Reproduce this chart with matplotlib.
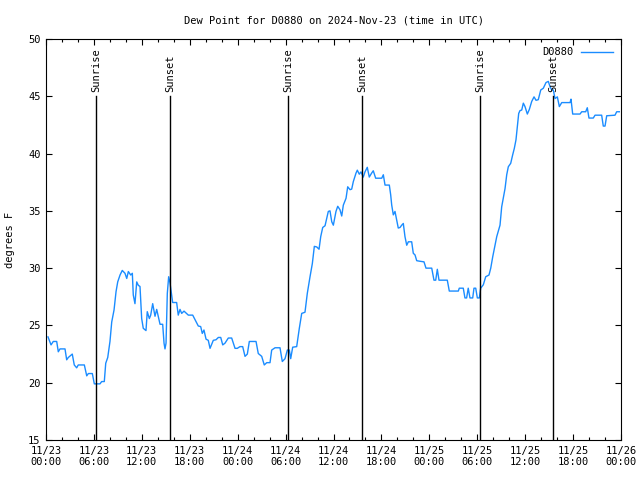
import matplotlib
matplotlib.use("Agg")
import matplotlib.pyplot as plt
from matplotlib.ticker import MultipleLocator

# hours since 11/23 00:00 UTC and dew point (F)
hours = [
    0.25, 0.63, 0.91, 1.34, 1.54, 1.75, 2.38, 2.59, 2.79, 3.29, 3.54, 3.84, 4.04, 4.80,
    5.10, 5.30, 5.80, 6.05, 6.76, 6.97, 7.30, 7.48, 7.73, 8.01, 8.23, 8.52, 8.77, 8.98,
    9.27, 9.55, 9.89, 10.11, 10.31, 10.61, 10.81, 10.93, 11.14, 11.36, 11.56, 11.77,
    11.98, 12.18, 12.52, 12.68, 12.94, 13.11, 13.36, 13.65, 13.86, 14.06, 14.28, 14.61,
    14.78, 14.90, 15.03, 15.19, 15.36, 15.53, 15.70, 15.86, 16.36, 16.56, 16.78, 16.99,
    17.28, 17.82, 18.37, 18.66, 19.07, 19.37, 19.57, 19.78, 20.04, 20.32, 20.54, 20.95,
    21.29, 21.58, 21.88, 22.13, 22.41, 22.83, 23.25, 23.67, 23.95, 24.29, 24.63, 24.92,
    25.21, 25.46, 26.30, 26.58, 27.01, 27.33, 27.64, 28.05, 28.26, 28.68, 29.30, 29.59,
    29.93, 30.22, 30.47, 30.64, 30.89, 31.39, 31.72, 32.02, 32.43, 32.72, 33.06, 33.35,
    33.60, 33.90, 34.19, 34.40, 34.65, 34.94, 35.35, 35.56, 35.78, 35.98, 36.31, 36.53,
    36.81, 37.03, 37.23, 37.57, 37.78, 38.07, 38.28, 38.48, 38.82, 38.98, 39.23, 39.44,
    39.73, 39.94, 40.23, 40.48, 40.78, 40.98, 41.28, 42.04, 42.24, 42.45, 42.99, 43.16,
    43.29, 43.49, 43.70, 43.91, 44.11, 44.33, 44.54, 44.74, 44.95, 45.17, 45.37, 45.79,
    45.99, 46.21, 46.42, 46.83, 47.33, 47.58, 48.30, 48.58, 48.80, 49.00, 49.21, 50.25,
    50.50, 51.63, 51.75, 52.25, 52.46, 52.67, 52.87, 53.09, 53.43, 53.59, 53.81, 54.01,
    54.26, 54.43, 54.76, 55.06, 55.47, 55.69, 55.94, 56.22, 56.44, 56.64, 56.85, 57.06,
    57.26, 57.48, 57.69, 57.89, 58.19, 58.44, 58.64, 58.85, 59.02, 59.19, 59.35, 59.57,
    59.77, 59.98, 60.27, 60.52, 60.82, 61.11, 61.36, 61.64, 61.95, 62.27, 62.61, 62.90,
    63.11, 63.32, 63.52, 63.74, 64.03, 64.28, 64.58, 65.62, 65.74, 65.95, 66.87, 67.08,
    67.58, 67.78, 67.99, 68.53, 68.75, 69.58, 69.78, 70.00, 70.21, 71.25, 71.46, 71.79,
]
dewpoint = [
    24.0, 23.3, 23.6, 23.6, 22.7, 22.95, 22.95, 22.0, 22.2, 22.5, 21.55, 21.3, 21.55, 21.55,
    20.6, 20.8, 20.8, 19.9, 19.9, 20.1, 20.1, 21.7, 22.2, 23.6, 25.3, 26.35, 27.95, 28.8,
    29.4, 29.8, 29.55, 29.1, 29.7, 29.4, 29.55, 27.65, 26.9, 28.8, 28.5, 28.4,
    25.6, 24.75, 24.55, 26.2, 25.6, 25.9, 26.9, 25.8, 26.4, 25.8, 25.1, 25.1,
    23.45, 22.95, 23.45, 27.8, 29.25, 28.7, 27.8, 27.0, 27.0, 25.9, 26.4, 26.05,
    26.25, 25.9, 25.9, 25.5, 24.95, 24.9, 24.3, 24.6, 23.8, 23.7, 23.0, 23.7,
    23.75, 23.95, 23.95, 23.3, 23.45, 23.9, 23.9, 23.0, 23.0, 23.15, 23.15, 22.3,
    22.5, 23.6, 23.6, 22.55, 22.3, 21.55, 21.75, 21.75, 22.85, 23.05, 23.05, 21.85,
    22.1, 22.85, 22.85, 22.1, 23.1, 23.15, 24.75, 26.05, 26.15, 27.8, 29.25, 30.4,
    31.9, 31.85, 31.65, 32.75, 33.55, 33.7, 34.95, 35.0, 34.05, 33.75, 34.95, 35.4,
    35.1, 34.55, 35.5, 36.1, 37.1, 36.85, 36.9, 37.55, 38.3, 38.55, 38.2, 38.4,
    37.95, 38.4, 38.8, 37.95, 38.3, 38.5, 37.85, 37.85, 38.15, 37.25, 37.25, 36.4,
    35.5, 34.65, 34.95, 34.2, 33.5, 33.55, 33.75, 33.9, 32.75, 32.0, 32.3, 32.3,
    31.3, 31.15, 30.65, 30.6, 30.55, 30.0, 30.0, 28.95, 28.95, 29.9, 28.95, 28.95,
    28.0, 28.0, 28.25, 28.25, 27.4, 27.4, 28.25, 27.4, 27.4, 28.25, 28.25, 27.4,
    27.4, 28.25, 28.55, 29.25, 29.4, 30.0, 31.0, 32.0, 32.75, 33.25, 33.75, 35.35,
    36.1, 36.95, 38.15, 38.85, 39.15, 39.9, 40.45, 41.2, 42.35, 43.5, 43.75, 43.8,
    44.4, 44.1, 43.45, 43.85, 44.55, 44.95, 44.65, 44.7, 45.55, 45.7, 46.2, 46.3,
    45.85, 45.55, 45.55, 44.8, 44.95, 44.1, 44.45, 44.45, 44.75, 43.45, 43.45, 43.65,
    43.65, 44.0, 43.1, 43.1, 43.35, 43.35, 42.4, 42.4, 43.3, 43.35, 43.65, 43.65,
]

sun_hours = [6.26, 15.53, 30.34, 39.6, 54.38, 63.52]
sun_labels = ["Sunrise", "Sunset", "Sunrise", "Sunset", "Sunrise", "Sunset"]

tick_hours = list(range(0, 73, 6))
tick_labels = [
    "11/23\n00:00", "11/23\n06:00", "11/23\n12:00", "11/23\n18:00",
    "11/24\n00:00", "11/24\n06:00", "11/24\n12:00", "11/24\n18:00",
    "11/25\n00:00", "11/25\n06:00", "11/25\n12:00", "11/25\n18:00",
    "11/26\n00:00",
]

plt.rcParams['font.family'] = ['DejaVu Sans Mono']
plt.rcParams['font.size'] = 7.5

fig = plt.figure(figsize=(6.4, 4.8), dpi=100)
ax = fig.add_axes([46 / 640, 40 / 480, 575 / 640, 401 / 480])

ax.plot(hours, dewpoint, color='#1a8cff', linewidth=1.0, label='D0880')

# sunrise / sunset markers
for h, lab in zip(sun_hours, sun_labels):
    ax.plot([h, h], [15, 45], color='black', linewidth=1.0)
    ax.text(h, 45.4, lab, rotation=90, ha='center', va='bottom', fontsize=7.5)

ax.set_xlim(0, 72)
ax.set_ylim(15, 50)
ax.set_xticks(tick_hours)
ax.set_xticklabels(tick_labels)
ax.xaxis.set_minor_locator(MultipleLocator(2))
ax.yaxis.set_major_locator(MultipleLocator(5))
ax.tick_params(which='both', direction='in', top=True, right=True, width=0.8)
ax.tick_params(which='major', length=4, pad=4)
ax.tick_params(which='minor', length=2)

ax.set_ylabel('degrees F', labelpad=9)
ax.set_title('Dew Point for D0880 on 2024-Nov-23 (time in UTC)', fontsize=7.5, pad=11)

ax.legend(loc='upper right', frameon=False, markerfirst=False, handlelength=3.0,
          borderaxespad=0.4, fontsize=7.5)

fig.savefig('out.png', dpi=100)
